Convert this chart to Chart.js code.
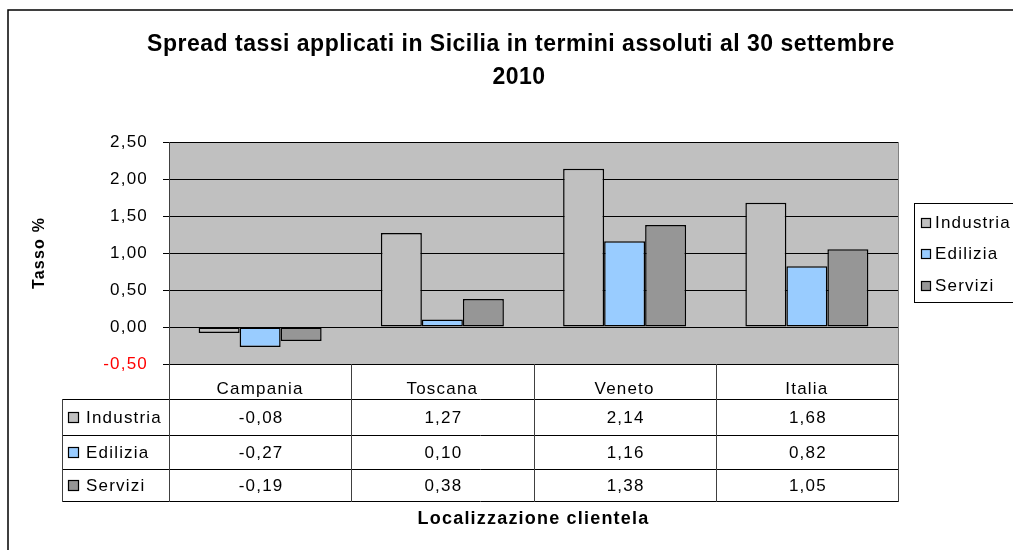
<!DOCTYPE html>
<html>
<head>
<meta charset="utf-8">
<script src="https://cdn.jsdelivr.net/npm/chart.js@4.4.1/dist/chart.umd.min.js"></script>
<style>
  body { margin: 0; background: #fff; }
</style>
</head>
<body>
<canvas id="spread-chart" width="1013" height="550"></canvas>
<script>
(function() {
  const categories = ['Campania', 'Toscana', 'Veneto', 'Italia'];
  const seriesNames = ['Industria', 'Edilizia', 'Servizi'];
  const industria = [-0.08, 1.27, 2.14, 1.68];
  const edilizia = [-0.27, 0.10, 1.16, 0.82];
  const servizi = [-0.19, 0.38, 1.38, 1.05];
  const seriesColors = ['#C0C0C0', '#99CCFF', '#969696'];
  const titleLines = ['Spread tassi applicati in Sicilia in termini assoluti al 30 settembre', '2010'];
  const yTitle = 'Tasso %';
  const xTitle = 'Localizzazione clientela';

  const FONT = '"Liberation Sans", Arial, sans-serif';
  const SPACING = '1.2px';
  const fmt = v => v.toFixed(2).replace('.', ',');
  const seriesValues = [industria, edilizia, servizi];

  // plot background, frame, title, data table and legend (Excel style)
  const excelLook = {
    id: 'excelLook',
    beforeDraw(chart) {
      const { ctx, chartArea: a } = chart;
      ctx.letterSpacing = SPACING; // Excel spreads its letters a bit
      ctx.save();
      ctx.fillStyle = '#C0C0C0';
      ctx.fillRect(a.left, a.top, a.right - a.left, a.bottom - a.top);
      ctx.restore();
    },
    afterDraw(chart) {
      const { ctx, chartArea: a } = chart;
      ctx.save();

      // outer frame
      ctx.strokeStyle = '#000';
      ctx.lineWidth = 1.5;
      ctx.strokeRect(8, 10, 1020, 560);

      // right plot border
      ctx.strokeStyle = '#808080';
      ctx.lineWidth = 1;
      ctx.beginPath();
      ctx.moveTo(a.right + 0.5, a.top);
      ctx.lineTo(a.right + 0.5, a.bottom);
      ctx.stroke();

      // title
      ctx.fillStyle = '#000';
      ctx.letterSpacing = '0.5px';
      ctx.font = 'bold 23px ' + FONT;
      ctx.textAlign = 'center';
      ctx.textBaseline = 'middle';
      ctx.fillText(titleLines[0], 521, 45);
      ctx.fillText(titleLines[1], 519, 78);
      ctx.letterSpacing = SPACING;

      // data table
      const rowLines = [399, 435, 469, 501];
      const colW = (a.right - a.left) / categories.length;
      const tableLeft = 62;
      ctx.strokeStyle = '#000';
      ctx.lineWidth = 1;
      ctx.beginPath();
      rowLines.forEach(y => {
        ctx.moveTo(tableLeft, y + 0.5);
        ctx.lineTo(a.right + 1, y + 0.5);
      });
      ctx.stroke();
      ctx.strokeStyle = '#404040';
      ctx.beginPath();
      for (let i = 0; i <= categories.length; i++) {
        const x = Math.round(a.left + i * colW) + 0.5;
        ctx.moveTo(x, a.bottom);
        ctx.lineTo(x, rowLines[rowLines.length - 1] + 1);
      }
      ctx.moveTo(tableLeft + 0.5, rowLines[0]);
      ctx.lineTo(tableLeft + 0.5, rowLines[rowLines.length - 1] + 1);
      ctx.stroke();

      ctx.font = '17px ' + FONT;
      seriesNames.forEach((name, r) => {
        const cy = (rowLines[r] + rowLines[r + 1]) / 2 + 1;
        ctx.fillStyle = seriesColors[r];
        ctx.fillRect(68.5, cy - 5.5, 10, 10);
        ctx.strokeStyle = '#000';
        ctx.lineWidth = 1.2;
        ctx.strokeRect(68.5, cy - 5.5, 10, 10);
        ctx.fillStyle = '#000';
        ctx.textAlign = 'left';
        ctx.fillText(name, 86, cy);
        ctx.textAlign = 'center';
        seriesValues[r].forEach((v, c) => {
          ctx.fillText(fmt(v), a.left + (c + 0.5) * colW + 1, cy);
        });
      });

      // legend on the right (runs off the canvas as in the original)
      ctx.strokeStyle = '#000';
      ctx.lineWidth = 1;
      ctx.strokeRect(914.5, 203.5, 120, 99);
      const legendY = [223, 254, 286];
      seriesNames.forEach((name, r) => {
        const cy = legendY[r];
        ctx.fillStyle = seriesColors[r];
        ctx.fillRect(921.5, cy - 4.5, 9, 9);
        ctx.strokeStyle = '#000';
        ctx.lineWidth = 1.2;
        ctx.strokeRect(921.5, cy - 4.5, 9, 9);
        ctx.fillStyle = '#000';
        ctx.textAlign = 'left';
        ctx.fillText(name, 935, cy);
      });

      ctx.restore();
    }
  };

  const ctx = document.getElementById('spread-chart').getContext('2d');

  new Chart(ctx, {
    type: 'bar',
    data: {
      labels: categories,
      datasets: seriesNames.map((name, i) => ({
        label: name,
        data: seriesValues[i],
        backgroundColor: seriesColors[i],
        borderColor: '#000',
        borderWidth: 1.5,
        borderSkipped: false,
        categoryPercentage: 0.675,
        barPercentage: 1.0
      }))
    },
    options: {
      responsive: false,
      animation: false,
      layout: { padding: { top: 142, right: 115, left: 0, bottom: 0 } },
      plugins: {
        legend: { display: false },
        title: { display: false },
        tooltip: { enabled: false }
      },
      scales: {
        y: {
          min: -0.5,
          max: 2.5,
          ticks: {
            stepSize: 0.5,
            padding: 15,
            font: { family: FONT, size: 17 },
            color: c => (c.tick && c.tick.value < 0 ? '#FF0000' : '#000'),
            callback: v => fmt(v)
          },
          grid: { color: '#000', lineWidth: 1, tickLength: 6, tickColor: '#000' },
          border: { color: '#404040', width: 1 },
          title: {
            display: true,
            text: yTitle,
            font: { family: FONT, size: 16, weight: 'bold' },
            color: '#000',
            padding: { top: 30 }
          },
          afterFit: s => { s.width = 169; }
        },
        x: {
          grid: { display: false },
          border: { display: false },
          ticks: {
            padding: 7,
            font: { family: FONT, size: 17 },
            color: '#000'
          },
          title: {
            display: true,
            text: xTitle,
            font: { family: FONT, size: 18, weight: 'bold' },
            color: '#000',
            padding: { bottom: 20 }
          },
          afterFit: s => { s.height = 186; }
        }
      }
    },
    plugins: [excelLook]
  });
})();
</script>
</body>
</html>
